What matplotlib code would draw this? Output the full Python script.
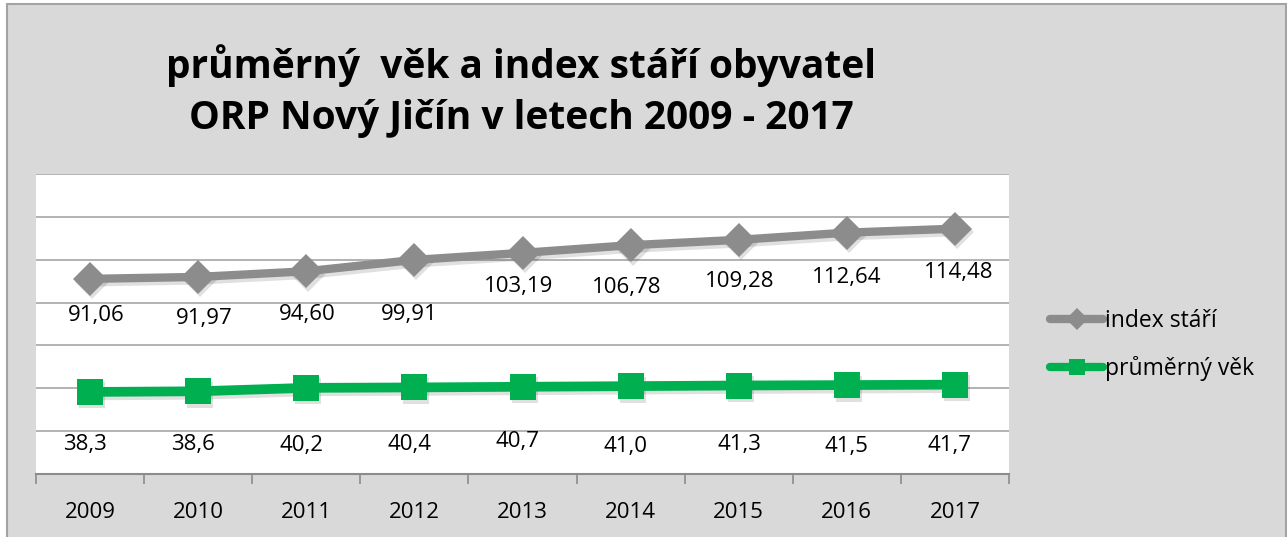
import matplotlib
matplotlib.use("Agg")
import matplotlib.pyplot as plt
import matplotlib.transforms as mtransforms
from matplotlib.lines import Line2D
from matplotlib.patches import Rectangle

years = ["2009", "2010", "2011", "2012", "2013", "2014", "2015", "2016", "2017"]
index_stari = [91.06, 91.97, 94.60, 99.91, 103.19, 106.78, 109.28, 112.64, 114.48]
prumerny_vek = [38.3, 38.6, 40.2, 40.4, 40.7, 41.0, 41.3, 41.5, 41.7]
index_labels = ["91,06", "91,97", "94,60", "99,91", "103,19", "106,78", "109,28", "112,64", "114,48"]
vek_labels = ["38,3", "38,6", "40,2", "40,4", "40,7", "41,0", "41,3", "41,5", "41,7"]

title = "průměrný  věk a index stáří obyvatel\nORP Nový Jičín v letech 2009 - 2017"
series_names = ["index stáří", "průměrný věk"]

# label offsets in pixels (dx, dy below point) - style only
index_off = [(6, 37), (6, 42), (1, 43), (-5, 55), (-4, 34), (-4, 42), (1, 42), (0, 45), (4, 44)]
vek_off = [(-5, 53), (-5, 53), (-5, 58), (-5, 57), (-5, 55), (-5, 60), (1, 59), (0, 61), (-5, 61)]

W, H = 1287, 537
plt.rcParams['font.family'] = ['Open Sans', 'DejaVu Sans']
fig = plt.figure(figsize=(W / 100, H / 100), dpi=100)
fig.patch.set_facecolor("white")

# outer chart frame
frame = Rectangle((7 / W, -0.01), (1286 - 7) / W, (H - 4) / H + 0.01,
                  transform=fig.transFigure, facecolor="#d9d9d9",
                  edgecolor="#a3a3a3", linewidth=1.5, zorder=-10)
fig.patches.append(frame)

ax = fig.add_axes([36 / W, (H - 474) / H, (1009 - 36) / W, (474 - 174) / H])
ax.set_zorder(2)
ax.set_facecolor("white")
x = list(range(len(years)))

gray = "#8c8c8c"
green = "#00b050"
shadow_tr = mtransforms.offset_copy(ax.transData, fig=fig, x=1.5, y=-2.5, units="points")

for data, col, mk, ms, lw in [(index_stari, gray, "D", 17, 6), (prumerny_vek, green, "s", 19, 7)]:
    ax.plot(x, data, color="black", alpha=0.12, lw=lw, marker=mk, markersize=ms,
            markeredgewidth=0, transform=shadow_tr, zorder=2, solid_capstyle="round")
    ax.plot(x, data, color=col, lw=lw, marker=mk, markersize=ms, markerfacecolor=col,
            markeredgecolor=col, markeredgewidth=0, zorder=3, solid_capstyle="round")

for xi, v, lab, (dx, dy) in zip(x, index_stari, index_labels, index_off):
    ax.annotate(lab, (xi, v), xytext=(dx * 0.72, -dy * 0.72), textcoords="offset points",
                ha="center", va="center", fontsize=16, color="black")
for xi, v, lab, (dx, dy) in zip(x, prumerny_vek, vek_labels, vek_off):
    ax.annotate(lab, (xi, v), xytext=(dx * 0.72, -dy * 0.72), textcoords="offset points",
                ha="center", va="center", fontsize=16, color="black")

ax.set_xlim(-0.5, len(years) - 0.5)
ax.set_ylim(0, 140)
ax.set_yticks(range(20, 141, 20))
ax.yaxis.grid(True, color="#a6a6a6", lw=1.2)
ax.set_axisbelow(True)
ax.tick_params(axis="y", left=False, labelleft=False)
for s in ["left", "right", "top"]:
    ax.spines[s].set_visible(False)
ax.spines["bottom"].set_color("#8c8c8c")
ax.spines["bottom"].set_linewidth(1.5)
ax.set_xticks(x)
ax.set_xticklabels(years, fontsize=16)
ax.set_xticks([i - 0.5 for i in range(len(years) + 1)], minor=True)
ax.tick_params(axis="x", which="major", length=0, pad=20)
ax.tick_params(axis="x", which="minor", length=7, width=1.2, color="#8c8c8c", direction="out")

fig.text(521 / W, 1 - 91 / H, title, ha="center", va="center", fontsize=28,
         fontweight="bold", linespacing=1.42)

handles = [
    Line2D([], [], color=gray, lw=6, marker="D", markersize=11, markeredgewidth=0,
           solid_capstyle="round"),
    Line2D([], [], color=green, lw=6, marker="s", markersize=12, markeredgewidth=0,
           solid_capstyle="round"),
]
leg = fig.legend(handles, series_names, loc="center left",
                 bbox_to_anchor=(1029 / W, 1 - 345 / H), frameon=False, fontsize=16.5,
                 handlelength=2.35, handletextpad=0.05, labelspacing=1.0, numpoints=1)

fig.savefig("out.png", dpi=100, facecolor=fig.get_facecolor())
